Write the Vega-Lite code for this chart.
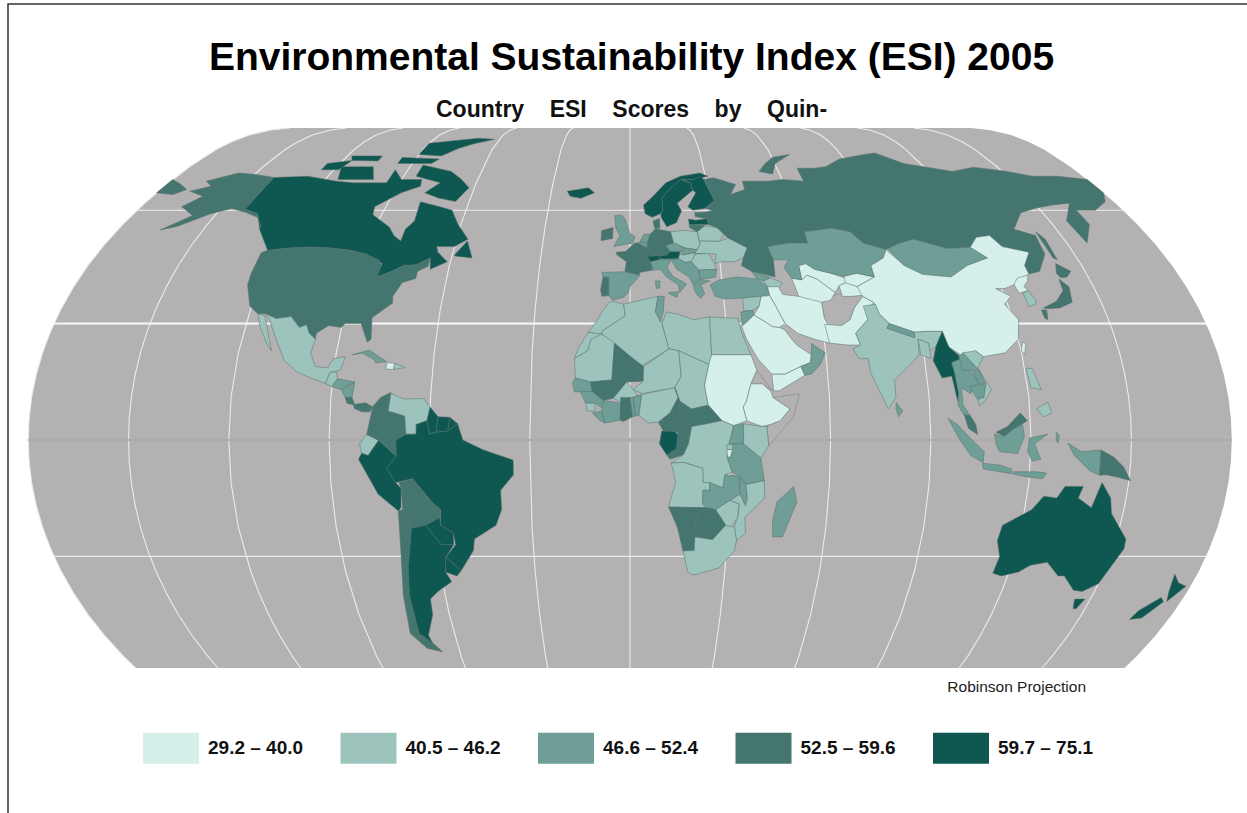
{"$schema":"https://vega.github.io/schema/vega-lite/v6.json","autosize":"none","width":1245,"height":815,"padding":{"left":8,"top":4,"right":0,"bottom":0},"background":"#ffffff","view":{"stroke":"#333333","strokeWidth":1.5,"fill":null},
"title":{"text":"Environmental Sustainability Index (ESI) 2005","subtitle":"\u00a0\u00a0\u00a0Country\u00a0\u00a0\u00a0\u00a0ESI\u00a0\u00a0\u00a0\u00a0Scores\u00a0\u00a0\u00a0\u00a0by\u00a0\u00a0\u00a0\u00a0Quin-","anchor":"middle","frame":"group","dy":122,"dx":1,"font":"Liberation Sans","fontSize":39,"fontWeight":"bold","color":"#000000","subtitleFont":"Liberation Sans","subtitleFontSize":23,"subtitleFontWeight":"bold","subtitleColor":"#111111","subtitlePadding":21},
"projection":{"type":"naturalEarth1","scale":220,"translate":[622,436],"clipExtent":[[0,124],[1245,664]]},
"datasets":{"countries":[
{"type":"Feature","name":"Canada","q":5,"geometry":{"type":"Polygon","coordinates":[[[-141,69.6],[-128,70],[-115,68.5],[-108,68],[-95,68],[-95,72],[-90,69],[-82,69],[-81,67],[-87,65],[-94,61],[-93,58.7],[-85,55.3],[-82,52.9],[-79,51.5],[-79,54.7],[-77,57],[-78,62.4],[-70,61],[-65,60],[-61,56],[-56,52],[-60,50],[-66,50],[-65,48.5],[-61,46],[-66,44],[-67,47],[-71,45.2],[-75,45],[-79,43.3],[-83,42],[-82.5,45.5],[-89,48],[-95,49],[-123,49],[-130,54.5],[-135,59],[-141,60.3],[-141,69.6]]]}},
{"type":"Feature","name":"Baffin","q":5,"geometry":{"type":"Polygon","coordinates":[[[-85,73.5],[-72,71.5],[-62,66.5],[-65,62.5],[-72,63.5],[-78,65],[-74,68],[-85,70],[-85,73.5]]]}},
{"type":"Feature","name":"Victoria","q":5,"geometry":{"type":"Polygon","coordinates":[[[-118,73],[-105,73],[-101,69],[-115,69],[-118,73]]]}},
{"type":"Feature","name":"Banks","q":5,"geometry":{"type":"Polygon","coordinates":[[[-125,74],[-116,75],[-118,72],[-125,72],[-125,74]]]}},
{"type":"Feature","name":"Ellesmere","q":5,"geometry":{"type":"Polygon","coordinates":[[[-90,81],[-70,83],[-62,82.5],[-75,79],[-80,76.5],[-90,77],[-90,81]]]}},
{"type":"Feature","name":"Devon","q":5,"geometry":{"type":"Polygon","coordinates":[[[-96,76],[-80,75.5],[-82,74],[-96,74],[-96,76]]]}},
{"type":"Feature","name":"Melville","q":5,"geometry":{"type":"Polygon","coordinates":[[[-118,76.5],[-105,76.5],[-105,74.8],[-116,75],[-118,76.5]]]}},
{"type":"Feature","name":"Newfoundland","q":5,"geometry":{"type":"Polygon","coordinates":[[[-59,48],[-56,51.5],[-53,47],[-59,47.5],[-59,48]]]}},
{"type":"Feature","name":"USA","q":4,"geometry":{"type":"Polygon","coordinates":[[[-124.7,48.4],[-123,49],[-95,49],[-89,48],[-84,46.5],[-82.5,45],[-83,42],[-79,43.3],[-75,45],[-71,45.2],[-67,47],[-67,44.8],[-70,43.5],[-70,41.6],[-74,40.6],[-76,37],[-75.5,35.3],[-81,31.5],[-80,26],[-81,25.2],[-82.7,28],[-84,30],[-89,30],[-90,29],[-94,29.5],[-97.3,27.5],[-97.2,26],[-99.5,27.5],[-101,29.7],[-103,29],[-106.5,31.8],[-111,31.3],[-114.8,32.5],[-117.2,32.5],[-120.6,34.5],[-124,40],[-124.5,43],[-124.7,48.4]]]}},
{"type":"Feature","name":"Alaska","q":4,"geometry":{"type":"Polygon","coordinates":[[[-168,65.5],[-162,67],[-166,68.5],[-157,71],[-141,69.6],[-141,60.3],[-135,59],[-130,55],[-134,58],[-146,60.5],[-152,59],[-160,55.5],[-165,54.5],[-158,58.5],[-165,61],[-161,64],[-168,65.5]]]}},
{"type":"Feature","name":"Mexico","q":2,"geometry":{"type":"Polygon","coordinates":[[[-114.8,32.5],[-111,31.3],[-106.5,31.8],[-103,29],[-101,29.7],[-99.5,27.5],[-97.2,26],[-97.8,22.5],[-95.8,19],[-92,18.6],[-90.5,21],[-87,21.5],[-88,18],[-91,17.5],[-92,14.6],[-96,15.8],[-101,17.5],[-105.5,20.5],[-109,25.5],[-113,31],[-114.8,32.5]]]}},
{"type":"Feature","name":"Baja California","q":2,"geometry":{"type":"Polygon","coordinates":[[[-117.2,32.5],[-114.8,32],[-112,27],[-110,23],[-112,25],[-115.5,29.5],[-117.2,32.5]]]}},
{"type":"Feature","name":"Guatemala","q":2,"geometry":{"type":"Polygon","coordinates":[[[-91,17.5],[-89,17.5],[-88.5,15.8],[-90,13.8],[-92,14.6],[-91,17.5]]]}},
{"type":"Feature","name":"Honduras","q":3,"geometry":{"type":"Polygon","coordinates":[[[-88.5,15.8],[-83.2,15],[-87,13],[-90,13.8],[-88.5,15.8]]]}},
{"type":"Feature","name":"Nicaragua","q":3,"geometry":{"type":"Polygon","coordinates":[[[-87,13],[-83.2,15],[-83.6,11],[-85.7,11],[-87,13]]]}},
{"type":"Feature","name":"Costa Rica","q":4,"geometry":{"type":"Polygon","coordinates":[[[-85.7,11],[-83.6,11],[-82.6,9],[-85,9.5],[-85.7,11]]]}},
{"type":"Feature","name":"Panama","q":4,"geometry":{"type":"Polygon","coordinates":[[[-83,9.2],[-79.5,9.6],[-77.3,8.6],[-78,7.3],[-80.5,7.3],[-82.8,8.2],[-83,9.2]]]}},
{"type":"Feature","name":"Cuba","q":3,"geometry":{"type":"Polygon","coordinates":[[[-85,22],[-80,23.2],[-74.2,20.2],[-77.5,19.9],[-78,20.7],[-82,22.4],[-85,22]]]}},
{"type":"Feature","name":"Haiti","q":1,"geometry":{"type":"Polygon","coordinates":[[[-74,20],[-71.7,19.8],[-71.8,18.2],[-74.3,18.3],[-74,20]]]}},
{"type":"Feature","name":"Dominican Republic","q":2,"geometry":{"type":"Polygon","coordinates":[[[-71.7,19.8],[-68.4,18.7],[-71.8,18.2],[-71.7,19.8]]]}},
{"type":"Feature","name":"Colombia","q":4,"geometry":{"type":"Polygon","coordinates":[[[-77.3,8.6],[-75,11],[-72,12.3],[-72.5,7.5],[-67.5,6.2],[-67,1.5],[-70,0],[-70,-4.2],[-74,-1],[-78.8,1.4],[-77.5,7],[-77.3,8.6]]]}},
{"type":"Feature","name":"Venezuela","q":2,"geometry":{"type":"Polygon","coordinates":[[[-72,12],[-68,10.6],[-62,10.7],[-60,8.5],[-60.8,5],[-64,4],[-64,1.5],[-67,1.5],[-67.5,6.2],[-72.5,7.5],[-72,12]]]}},
{"type":"Feature","name":"Guyana","q":5,"geometry":{"type":"Polygon","coordinates":[[[-60,8.5],[-57.5,6],[-58,2],[-60,1.5],[-60.8,5],[-60,8.5]]]}},
{"type":"Feature","name":"Suriname","q":5,"geometry":{"type":"Polygon","coordinates":[[[-57.5,6],[-54,5.9],[-54.5,2.3],[-58,2],[-57.5,6]]]}},
{"type":"Feature","name":"French Guiana","q":5,"geometry":{"type":"Polygon","coordinates":[[[-54,5.9],[-51.6,4.2],[-54.5,2.3],[-54,5.9]]]}},
{"type":"Feature","name":"Ecuador","q":2,"geometry":{"type":"Polygon","coordinates":[[[-78.8,1.4],[-75.2,-0.1],[-78.4,-4],[-80.3,-3.4],[-80.9,-1],[-78.8,1.4]]]}},
{"type":"Feature","name":"Peru","q":5,"geometry":{"type":"Polygon","coordinates":[[[-80.3,-3.4],[-78.4,-4],[-75.2,-0.1],[-70,-4.2],[-73,-7.3],[-70.5,-11],[-69,-12.5],[-69.5,-17.5],[-70.4,-18.3],[-76,-14],[-81.3,-5],[-80.3,-3.4]]]}},
{"type":"Feature","name":"Brazil","q":5,"geometry":{"type":"Polygon","coordinates":[[[-70,-4.2],[-70,0],[-67,1.5],[-64,1.5],[-64,4],[-60.8,5],[-60,1.5],[-58,2],[-54.5,2.3],[-51.6,4.2],[-50,0],[-44,-2.5],[-35,-5.2],[-35,-9],[-39,-13],[-39,-18],[-41,-22],[-48,-25.5],[-48.7,-28.5],[-53.4,-33.7],[-57.6,-30.2],[-54,-27],[-54.3,-24],[-58,-22],[-57.5,-18],[-60,-16],[-65.3,-10],[-70.5,-11],[-73,-7.3],[-70,-4.2]]]}},
{"type":"Feature","name":"Bolivia","q":4,"geometry":{"type":"Polygon","coordinates":[[[-69.5,-11],[-65.3,-10],[-60,-16],[-57.5,-18],[-58,-20],[-62.5,-22],[-67,-22.8],[-69,-18],[-69,-12.5],[-69.5,-11]]]}},
{"type":"Feature","name":"Paraguay","q":5,"geometry":{"type":"Polygon","coordinates":[[[-62.5,-22],[-58,-20],[-58,-22],[-54.3,-24],[-54.6,-27],[-58.5,-27],[-62.5,-22]]]}},
{"type":"Feature","name":"Chile","q":4,"geometry":{"type":"Polygon","coordinates":[[[-70.4,-18.3],[-69,-18],[-67,-22.8],[-70,-33],[-71.5,-40],[-72,-50],[-69,-52],[-66,-55],[-71,-54],[-75,-50],[-73.5,-40],[-71.5,-30],[-70.4,-18.3]]]}},
{"type":"Feature","name":"Argentina","q":5,"geometry":{"type":"Polygon","coordinates":[[[-67,-22.8],[-62.5,-22],[-58.5,-27],[-54.6,-27],[-57.6,-30.2],[-58.4,-34],[-57,-36.5],[-62,-39],[-65,-41],[-65.5,-45],[-69,-50.5],[-68.5,-52.5],[-72,-50],[-71.5,-40],[-70,-33],[-67,-22.8]]]}},
{"type":"Feature","name":"Uruguay","q":5,"geometry":{"type":"Polygon","coordinates":[[[-57.6,-30.2],[-53.4,-33.7],[-55,-35],[-58.4,-34],[-57.6,-30.2]]]}},
{"type":"Feature","name":"Morocco","q":2,"geometry":{"type":"Polygon","coordinates":[[[-6,35.8],[-2,35],[-1.5,32],[-8.7,28],[-8.7,27.3],[-13,27.7],[-9.8,31.5],[-8.5,33.5],[-6,35.8]]]}},
{"type":"Feature","name":"Western Sahara","q":2,"geometry":{"type":"Polygon","coordinates":[[[-13,27.7],[-8.7,27.3],[-8.7,26],[-12,26],[-13,23],[-17,21],[-16,23.5],[-13,27.7]]]}},
{"type":"Feature","name":"Algeria","q":2,"geometry":{"type":"Polygon","coordinates":[[[-2,35],[9,37],[8,33],[10,30],[12,23.5],[3.3,19],[-8.7,27.3],[-8.7,28],[-1.5,32],[-2,35]]]}},
{"type":"Feature","name":"Tunisia","q":3,"geometry":{"type":"Polygon","coordinates":[[[9,37],[11,37],[10.5,33],[9.5,30.5],[8,33],[9,37]]]}},
{"type":"Feature","name":"Libya","q":2,"geometry":{"type":"Polygon","coordinates":[[[11.5,33],[15,32.4],[20,31],[25,31.7],[25,20],[24,19.5],[15,23],[12,23.5],[10,30],[11.5,33]]]}},
{"type":"Feature","name":"Egypt","q":2,"geometry":{"type":"Polygon","coordinates":[[[25,31.7],[34,31.3],[34.5,28],[37,22],[25,22],[25,31.7]]]}},
{"type":"Feature","name":"Mauritania","q":2,"geometry":{"type":"Polygon","coordinates":[[[-17,21],[-13,23],[-12,26],[-8.7,27.3],[-4.8,25],[-5.5,15.5],[-12,15],[-16.5,16],[-17,21]]]}},
{"type":"Feature","name":"Mali","q":4,"geometry":{"type":"Polygon","coordinates":[[[-4.8,25],[1,21],[4.2,19],[4,15.2],[-1,15],[-5,10.8],[-8,10.2],[-11.5,12.5],[-12,15],[-5.5,15.5],[-4.8,25]]]}},
{"type":"Feature","name":"Niger","q":2,"geometry":{"type":"Polygon","coordinates":[[[4.2,19],[12,23.5],[15,23],[15.5,16.5],[13.5,13.5],[3.7,12],[1,13],[4,15.2],[4.2,19]]]}},
{"type":"Feature","name":"Chad","q":2,"geometry":{"type":"Polygon","coordinates":[[[15,23],[24,19.5],[22.5,14],[23.5,9],[18.5,8],[15,10],[13.5,13.5],[15.5,16.5],[15,23]]]}},
{"type":"Feature","name":"Sudan","q":1,"geometry":{"type":"Polygon","coordinates":[[[25,22],[37,22],[38.5,18],[36.5,14.5],[35,10],[34,8.5],[35,5],[31,3.7],[27.5,5],[23.5,9],[22.5,14],[24,19.5],[25,22]]]}},
{"type":"Feature","name":"Eritrea","q":0,"geometry":{"type":"Polygon","coordinates":[[[38.5,18],[43,12.7],[40,14.5],[36.5,14.5],[38.5,18]]]}},
{"type":"Feature","name":"Ethiopia","q":1,"geometry":{"type":"Polygon","coordinates":[[[36.5,14.5],[40,14.5],[42.5,12.5],[43,11],[48,8],[45,5],[42,4],[39.5,3.5],[35,5],[34,8.5],[35,10],[36.5,14.5]]]}},
{"type":"Feature","name":"Somalia","q":0,"geometry":{"type":"Polygon","coordinates":[[[43,11],[51,12],[49,6],[41.5,-1.5],[41,3.5],[42,4],[45,5],[48,8],[43,11]]]}},
{"type":"Feature","name":"Senegal","q":3,"geometry":{"type":"Polygon","coordinates":[[[-16.5,16],[-12,15],[-11.5,12.5],[-16.7,12.4],[-17.4,14.7],[-16.5,16]]]}},
{"type":"Feature","name":"Guinea","q":3,"geometry":{"type":"Polygon","coordinates":[[[-15,12.5],[-11.5,12.5],[-8,10.2],[-8,8],[-10.5,9.5],[-13.3,9.5],[-15,12.5]]]}},
{"type":"Feature","name":"Sierra Leone","q":2,"geometry":{"type":"Polygon","coordinates":[[[-13.3,9.5],[-10.5,9.5],[-10.5,7.5],[-12.8,7.5],[-13.3,9.5]]]}},
{"type":"Feature","name":"Liberia","q":3,"geometry":{"type":"Polygon","coordinates":[[[-11.3,7],[-8.5,7.5],[-7.5,4.4],[-9,5],[-11.3,7]]]}},
{"type":"Feature","name":"Ivory Coast","q":3,"geometry":{"type":"Polygon","coordinates":[[[-8,10.2],[-2.8,9.5],[-2.8,5.2],[-7.5,4.4],[-8.5,7.5],[-8,10.2]]]}},
{"type":"Feature","name":"Burkina Faso","q":2,"geometry":{"type":"Polygon","coordinates":[[[-5,10.8],[-1,15],[1,13],[2.3,11.5],[-2.8,9.8],[-5,10.8]]]}},
{"type":"Feature","name":"Ghana","q":4,"geometry":{"type":"Polygon","coordinates":[[[-2.8,11],[0,11],[0.8,6],[-2,4.8],[-3,5.2],[-2.8,11]]]}},
{"type":"Feature","name":"Togo","q":3,"geometry":{"type":"Polygon","coordinates":[[[0,11],[1,11],[1.6,6.2],[0.8,6],[0,11]]]}},
{"type":"Feature","name":"Benin","q":3,"geometry":{"type":"Polygon","coordinates":[[[1,11],[3.5,11.8],[2.7,6.3],[1.6,6.2],[1,11]]]}},
{"type":"Feature","name":"Nigeria","q":2,"geometry":{"type":"Polygon","coordinates":[[[3.5,11.8],[13.5,13.5],[14.5,11],[12,7],[8.5,4.6],[5.5,4.4],[2.7,6.3],[3.5,11.8]]]}},
{"type":"Feature","name":"Cameroon","q":4,"geometry":{"type":"Polygon","coordinates":[[[13.5,13.5],[15,10],[14.5,6],[16,2],[10,2.3],[8.5,4.6],[12,7],[14.5,11],[13.5,13.5]]]}},
{"type":"Feature","name":"Central African Republic","q":4,"geometry":{"type":"Polygon","coordinates":[[[15,10],[18.5,8],[23.5,9],[27.5,5],[22,4],[18.5,3.5],[16,2],[14.5,6],[15,10]]]}},
{"type":"Feature","name":"Congo","q":4,"geometry":{"type":"Polygon","coordinates":[[[14,3.2],[18.5,3.5],[17.5,-1],[16,-3.8],[12,-5],[11,-3.9],[13.8,-2.3],[14.3,1.3],[14,3.2]]]}},
{"type":"Feature","name":"Gabon","q":5,"geometry":{"type":"Polygon","coordinates":[[[9.5,2.3],[13.5,2.2],[14.3,1.3],[13.8,-2.3],[11,-3.9],[8.8,-1],[9.5,2.3]]]}},
{"type":"Feature","name":"DR Congo","q":2,"geometry":{"type":"Polygon","coordinates":[[[18.5,3.5],[22,4],[27.5,5],[31,3.7],[29.6,-1],[29,-4.5],[30.7,-8.3],[28.5,-9],[28,-12.4],[24,-11],[22,-11],[21.8,-7.3],[16,-5.8],[12.3,-6],[16,-3.8],[17.5,-1],[18.5,3.5]]]}},
{"type":"Feature","name":"Uganda","q":3,"geometry":{"type":"Polygon","coordinates":[[[31,3.7],[34,4.2],[34,0.5],[33.9,-1],[29.6,-1],[30.5,1.5],[31,3.7]]]}},
{"type":"Feature","name":"Kenya","q":2,"geometry":{"type":"Polygon","coordinates":[[[34,4.2],[39.5,3.5],[41,3.5],[41.5,-1.5],[39.2,-4.7],[33.9,-1],[34,0.5],[34,4.2]]]}},
{"type":"Feature","name":"Tanzania","q":3,"geometry":{"type":"Polygon","coordinates":[[[30.5,-1],[33.9,-1],[39.2,-4.7],[40.4,-10.5],[34.9,-11.5],[32.9,-9.4],[30.7,-8.3],[29.2,-4.5],[30.5,-1]]]}},
{"type":"Feature","name":"Rwanda","q":2,"geometry":{"type":"Polygon","coordinates":[[[29,-1.2],[30.7,-1.2],[30.7,-2.5],[29,-2.5],[29,-1.2]]]}},
{"type":"Feature","name":"Burundi","q":1,"geometry":{"type":"Polygon","coordinates":[[[29,-2.5],[30.7,-2.5],[30,-4.4],[29.2,-4.4],[29,-2.5]]]}},
{"type":"Feature","name":"Angola","q":2,"geometry":{"type":"Polygon","coordinates":[[[12.3,-6],[16,-5.8],[21.8,-7.3],[22,-11],[24,-11],[24,-13],[22,-13],[22,-16.5],[23.4,-17.5],[11.7,-17.3],[13.7,-11],[13,-8],[12.3,-6]]]}},
{"type":"Feature","name":"Zambia","q":3,"geometry":{"type":"Polygon","coordinates":[[[24,-11],[28,-12.4],[28.5,-9],[32.9,-9.4],[33.2,-14],[30.2,-15.6],[26,-18],[23.4,-17.8],[22,-16.5],[22,-13],[24,-13],[24,-11]]]}},
{"type":"Feature","name":"Malawi","q":3,"geometry":{"type":"Polygon","coordinates":[[[32.9,-9.4],[34.9,-11.5],[35.5,-15],[35,-17],[33.2,-14],[32.9,-9.4]]]}},
{"type":"Feature","name":"Mozambique","q":2,"geometry":{"type":"Polygon","coordinates":[[[34.9,-11.5],[40.4,-10.5],[40.7,-15],[35,-20],[35.5,-24],[32.9,-26],[32,-22.5],[33,-19],[33,-16.5],[30.2,-15.6],[33.2,-14],[35,-17],[35.5,-15],[34.9,-11.5]]]}},
{"type":"Feature","name":"Zimbabwe","q":2,"geometry":{"type":"Polygon","coordinates":[[[26,-18],[30.2,-15.6],[33,-16.5],[32.8,-20],[31,-22.4],[29.3,-22],[26,-18]]]}},
{"type":"Feature","name":"Botswana","q":4,"geometry":{"type":"Polygon","coordinates":[[[20.9,-18.3],[25,-17.8],[26,-18],[29.3,-22],[25.5,-25.7],[20,-25],[20,-22],[20.9,-18.3]]]}},
{"type":"Feature","name":"Namibia","q":4,"geometry":{"type":"Polygon","coordinates":[[[11.7,-17.3],[23.4,-17.5],[25,-17.8],[20.9,-18.3],[20,-22],[20,-28.5],[16.5,-28.6],[14.5,-22.5],[11.7,-17.3]]]}},
{"type":"Feature","name":"South Africa","q":2,"geometry":{"type":"Polygon","coordinates":[[[16.5,-28.6],[20,-28.5],[20,-25],[25.5,-25.7],[29.3,-22],[32,-22.5],[32.9,-26],[32.5,-28.5],[28,-33],[20,-34.8],[18.3,-34],[16.5,-28.6]]]}},
{"type":"Feature","name":"Madagascar","q":3,"geometry":{"type":"Polygon","coordinates":[[[49.3,-12],[50.5,-16],[47,-25],[44,-25],[43.5,-21],[44.5,-16],[49.3,-12]]]}},
{"type":"Feature","name":"Iceland","q":5,"geometry":{"type":"Polygon","coordinates":[[[-24,65.5],[-16,66.5],[-13.5,65],[-18.5,63.4],[-22.5,64],[-24,65.5]]]}},
{"type":"Feature","name":"United Kingdom","q":3,"geometry":{"type":"Polygon","coordinates":[[[-5.5,58.5],[-3,58.6],[-1.8,57.5],[0,53.5],[1.7,52.7],[1,51],[-5.5,50],[-3.5,53],[-5,55],[-5.5,58.5]]]}},
{"type":"Feature","name":"Ireland","q":4,"geometry":{"type":"Polygon","coordinates":[[[-10,54.3],[-6,55.2],[-6,52.2],[-10,51.6],[-10,54.3]]]}},
{"type":"Feature","name":"Norway","q":5,"geometry":{"type":"Polygon","coordinates":[[[5,61.5],[8,63.5],[14,68],[20,70],[28,71],[31,70],[25,69],[20,69],[15,66],[12,63.5],[12,60],[11,59],[8,58],[5.5,59],[5,61.5]]]}},
{"type":"Feature","name":"Sweden","q":5,"geometry":{"type":"Polygon","coordinates":[[[11.2,59],[12,60],[12,63.5],[15,66],[20,69],[23.7,67.9],[24,65.8],[17.5,62],[18.8,59.8],[16.5,56.5],[13,55.4],[11.2,58],[11.2,59]]]}},
{"type":"Feature","name":"Finland","q":5,"geometry":{"type":"Polygon","coordinates":[[[20.6,69],[25,69],[28,70],[29,69],[31.5,62.8],[27.5,60.5],[23,60],[21.3,61],[25,65],[24,65.8],[23.7,67.9],[20.6,69]]]}},
{"type":"Feature","name":"Denmark","q":4,"geometry":{"type":"Polygon","coordinates":[[[8.2,57],[10.6,57.7],[10.5,55],[8.7,54.9],[8.2,57]]]}},
{"type":"Feature","name":"Netherlands","q":3,"geometry":{"type":"Polygon","coordinates":[[[3.5,51.5],[5,53.4],[7,53.3],[6,51],[3.5,51.3],[3.5,51.5]]]}},
{"type":"Feature","name":"Belgium","q":3,"geometry":{"type":"Polygon","coordinates":[[[2.6,51],[3.5,51.3],[6,51],[5.8,49.6],[2.6,50.5],[2.6,51]]]}},
{"type":"Feature","name":"France","q":4,"geometry":{"type":"Polygon","coordinates":[[[-4.7,48.5],[-1.5,48.7],[1.5,50.9],[2.6,51],[5.8,49.6],[8,49],[7.5,47.5],[6.8,45.8],[7.5,43.8],[3.2,43.2],[3,42.5],[-1.7,43.4],[-1.2,46],[-4.5,47.9],[-4.7,48.5]]]}},
{"type":"Feature","name":"Spain","q":3,"geometry":{"type":"Polygon","coordinates":[[[-9.3,43.2],[-1.7,43.4],[3.2,42.4],[0,39.5],[-0.5,38],[-2,36.8],[-5.5,36],[-6.8,37.2],[-7,41.9],[-8.8,42],[-9.3,43.2]]]}},
{"type":"Feature","name":"Portugal","q":4,"geometry":{"type":"Polygon","coordinates":[[[-8.8,42],[-7,41.9],[-6.8,37.2],[-9,37],[-9.5,38.7],[-8.8,42]]]}},
{"type":"Feature","name":"Germany","q":4,"geometry":{"type":"Polygon","coordinates":[[[6,51],[7,53.3],[9,54.8],[14.2,54],[15,51],[12.2,50.3],[13.7,48.7],[12.2,47.7],[9.6,47.6],[7.6,47.6],[8,49],[5.8,49.6],[6,51]]]}},
{"type":"Feature","name":"Switzerland","q":5,"geometry":{"type":"Polygon","coordinates":[[[6,47.4],[9.6,47.6],[10.4,46.5],[7,45.9],[6,47.4]]]}},
{"type":"Feature","name":"Austria","q":5,"geometry":{"type":"Polygon","coordinates":[[[9.6,47.6],[12.2,47.7],[13.7,48.7],[17,48.7],[16.2,46.8],[10.4,46.7],[9.6,47.6]]]}},
{"type":"Feature","name":"Italy","q":3,"geometry":{"type":"Polygon","coordinates":[[[7,46],[10.4,46.7],[13.7,46.5],[12.3,44.5],[14,42.2],[18.4,40.2],[16,38],[15.6,40],[12,42],[10,44],[7.5,43.8],[7,46]]]}},
{"type":"Feature","name":"Sicily","q":3,"geometry":{"type":"Polygon","coordinates":[[[12.5,38],[15.6,38.2],[15,36.7],[12.5,37.7],[12.5,38]]]}},
{"type":"Feature","name":"Sardinia","q":3,"geometry":{"type":"Polygon","coordinates":[[[8.2,41],[9.7,41],[9.6,39.2],[8.5,39],[8.2,41]]]}},
{"type":"Feature","name":"Poland","q":2,"geometry":{"type":"Polygon","coordinates":[[[14.2,54],[19,54.4],[23.5,54],[24,50.5],[22.6,49.2],[18.8,49.6],[15,51],[14.2,54]]]}},
{"type":"Feature","name":"Czech Republic","q":3,"geometry":{"type":"Polygon","coordinates":[[[12.2,50.3],[15,51],[18.8,49.6],[17,48.7],[13.7,48.7],[12.2,50.3]]]}},
{"type":"Feature","name":"Slovakia","q":3,"geometry":{"type":"Polygon","coordinates":[[[17,48.7],[18.8,49.6],[22.6,49.2],[22,48.4],[18,47.8],[17,48.7]]]}},
{"type":"Feature","name":"Hungary","q":2,"geometry":{"type":"Polygon","coordinates":[[[16.2,46.8],[17,48],[18,47.8],[22,48.4],[21,46.2],[18.5,45.8],[16.2,46.8]]]}},
{"type":"Feature","name":"Belarus","q":2,"geometry":{"type":"Polygon","coordinates":[[[23.5,54],[26.5,55.7],[31,55],[32.7,53.3],[30.5,51.4],[24,51.5],[23.5,54]]]}},
{"type":"Feature","name":"Ukraine","q":2,"geometry":{"type":"Polygon","coordinates":[[[24,51.5],[30.5,51.4],[34,52.3],[40,49.7],[38,47],[35,46],[33,46],[30.5,46],[28.2,45.5],[29.2,48],[22,48.2],[24,50.5],[24,51.5]]]}},
{"type":"Feature","name":"Romania","q":2,"geometry":{"type":"Polygon","coordinates":[[[22,48],[26.5,48.2],[28.2,45.5],[28.6,44],[22.7,43.8],[20.5,46],[22,48]]]}},
{"type":"Feature","name":"Bulgaria","q":3,"geometry":{"type":"Polygon","coordinates":[[[22.7,43.8],[28.6,44],[28,42],[22.8,41.3],[22.7,43.8]]]}},
{"type":"Feature","name":"Western Balkans","q":3,"geometry":{"type":"Polygon","coordinates":[[[13.7,46.5],[16.2,46.8],[18.5,45.8],[20.5,46],[22.7,43.8],[22.8,41.3],[20.5,40],[19.3,42],[15.5,44],[13.7,46.5]]]}},
{"type":"Feature","name":"Greece","q":3,"geometry":{"type":"Polygon","coordinates":[[[20.5,40],[22.8,41.3],[26,41],[23,40],[24,37.7],[22.5,36.5],[21,38],[20.5,40]]]}},
{"type":"Feature","name":"Estonia","q":4,"geometry":{"type":"Polygon","coordinates":[[[23.5,59.3],[28,59.5],[27.5,57.6],[23.5,58.2],[23.5,59.3]]]}},
{"type":"Feature","name":"Latvia","q":5,"geometry":{"type":"Polygon","coordinates":[[[21,57.5],[23.5,57.2],[27.5,57.6],[28,56],[21,56],[21,57.5]]]}},
{"type":"Feature","name":"Lithuania","q":4,"geometry":{"type":"Polygon","coordinates":[[[21,56],[26.5,55.7],[23.5,54],[21,55.2],[21,56]]]}},
{"type":"Feature","name":"Russia","q":4,"geometry":{"type":"Polygon","coordinates":[[[29,69],[33,69.5],[41,67.5],[38,64.5],[44,66],[44,68.5],[54,68.5],[60,69],[68,68.5],[68,72.5],[75,72.5],[80,73],[88,75.5],[100,77],[105,77.5],[113,74],[130,71.5],[140,72.8],[160,70],[170,70],[180,69],[180,65],[177,62.5],[170,60],[163,60],[163,56],[157,51],[156,57],[163,62],[156,61.5],[142,59.3],[135,54.7],[141,53],[140,48],[135,43.5],[131,42.8],[131,45],[135,48.5],[127,50],[125,53],[120,52.5],[116,49.8],[108,49.5],[102,51],[98,52],[92,50.8],[87,49.2],[80,51],[77,54],[71,55],[61,54],[61,51],[55,51],[47,50],[48,46.5],[47.5,42],[40,43.5],[37,45],[38,47],[40,49.7],[34,52.3],[32.7,53.3],[31,55],[28,56],[27.5,57.6],[28,59.5],[30,60],[27.8,60.5],[31.5,62.8],[29,69]]]}},
{"type":"Feature","name":"Chukotka","q":4,"geometry":{"type":"Polygon","coordinates":[[[-180,69],[-170,66],[-173,64.5],[-180,65],[-180,69]]]}},
{"type":"Feature","name":"Novaya Zemlya","q":4,"geometry":{"type":"Polygon","coordinates":[[[52,71.5],[60,76],[68,77],[60,74],[57,70.7],[52,71.5]]]}},
{"type":"Feature","name":"Sakhalin","q":4,"geometry":{"type":"Polygon","coordinates":[[[142,54],[143.5,52],[143,46.5],[142,47],[142,54]]]}},
{"type":"Feature","name":"Turkey","q":3,"geometry":{"type":"Polygon","coordinates":[[[26,40],[29,41.2],[35,42],[41.5,41.5],[44.5,39.5],[44.5,37],[36,36.6],[30,36.3],[27.3,37],[26,40]]]}},
{"type":"Feature","name":"Georgia","q":3,"geometry":{"type":"Polygon","coordinates":[[[40,43.5],[46,41.8],[43.5,41],[41.5,41.5],[40,43.5]]]}},
{"type":"Feature","name":"Armenia and Azerbaijan","q":2,"geometry":{"type":"Polygon","coordinates":[[[43.5,41],[46,41.8],[49.5,40.5],[48,39],[44.5,39.5],[43.5,41]]]}},
{"type":"Feature","name":"Syria","q":2,"geometry":{"type":"Polygon","coordinates":[[[36,36.6],[42,37],[41,34.5],[38.8,33.4],[36,33.2],[36,36.6]]]}},
{"type":"Feature","name":"Jordan","q":3,"geometry":{"type":"Polygon","coordinates":[[[35,33],[38.8,33.4],[39,32.2],[36,30],[35,29.5],[35,33]]]}},
{"type":"Feature","name":"Iraq","q":1,"geometry":{"type":"Polygon","coordinates":[[[42,37],[44.8,37.2],[46,35],[48.5,30],[46.5,29],[44.5,29.2],[39,32.2],[41,34.5],[42,37]]]}},
{"type":"Feature","name":"Iran","q":1,"geometry":{"type":"Polygon","coordinates":[[[44.5,39.5],[48,39.5],[49,37.5],[54,37],[61,36.5],[61,31.5],[63,27],[61.5,25],[57,26],[52,27.5],[48.5,30],[46,35],[44.8,37.2],[44.5,39.5]]]}},
{"type":"Feature","name":"Saudi Arabia","q":1,"geometry":{"type":"Polygon","coordinates":[[[34.8,29.3],[36,30],[39,32.2],[44.5,29.2],[46.5,29],[48,28.5],[50,26],[51.3,24.5],[55.5,22],[55,20],[52,19],[47,17],[43,17],[39,21],[36,26],[34.8,29.3]]]}},
{"type":"Feature","name":"Yemen","q":1,"geometry":{"type":"Polygon","coordinates":[[[43,17],[47,17],[52,19],[53,16.7],[45,12.7],[43.3,12.7],[43,17]]]}},
{"type":"Feature","name":"Oman","q":3,"geometry":{"type":"Polygon","coordinates":[[[55.5,22],[56,25],[56.5,24.5],[59.8,22.5],[58,19.5],[55,17],[53,16.7],[52,19],[55,20],[55.5,22]]]}},
{"type":"Feature","name":"Afghanistan","q":0,"geometry":{"type":"Polygon","coordinates":[[[61,36.5],[65,37.3],[71,38],[74.5,37],[71,34],[69,31],[66,29.5],[61,29.5],[61,31.5],[61,36.5]]]}},
{"type":"Feature","name":"Pakistan","q":1,"geometry":{"type":"Polygon","coordinates":[[[60.8,29.8],[66,29.5],[69,31],[71,34],[74.5,37],[77.5,35.5],[74.5,31],[70,27.5],[71,24.5],[67,24.5],[61.5,25],[60.8,29.8]]]}},
{"type":"Feature","name":"Turkmenistan","q":1,"geometry":{"type":"Polygon","coordinates":[[[52.8,41.7],[56,41.3],[58,42.5],[61,41.5],[66,38],[64,36],[61,35.5],[54,37],[53.5,39],[52.8,41.7]]]}},
{"type":"Feature","name":"Uzbekistan","q":1,"geometry":{"type":"Polygon","coordinates":[[[56,45],[58.5,45.5],[61,44],[66,43],[71,41.5],[70,40.5],[67.7,39.7],[66,38],[61,41.5],[58,42.5],[56,41.3],[56,45]]]}},
{"type":"Feature","name":"Kyrgyzstan","q":1,"geometry":{"type":"Polygon","coordinates":[[[70,42.2],[74.5,43],[80,42],[73.5,39.5],[70,40],[70,42.2]]]}},
{"type":"Feature","name":"Tajikistan","q":1,"geometry":{"type":"Polygon","coordinates":[[[67.7,39.7],[70,40.5],[73.5,39.5],[75,37.3],[71,37],[68,37],[67.7,39.7]]]}},
{"type":"Feature","name":"Kazakhstan","q":3,"geometry":{"type":"Polygon","coordinates":[[[47,50],[55,51],[61,51],[61,54],[71,55],[77,54],[80,51],[87,49.2],[85,47],[80,45],[80,42],[74.5,43],[70,42.2],[66,43],[61,44],[58.5,45.5],[56,45],[56,41.3],[52.8,41.7],[51,44.5],[53,46.5],[48,46.5],[47,50]]]}},
{"type":"Feature","name":"Mongolia","q":3,"geometry":{"type":"Polygon","coordinates":[[[87.8,49.2],[92,50.8],[98,52],[102,51],[108,49.5],[116,49.8],[120,47],[112,45],[105,42],[96,42.7],[91,45],[87.8,49.2]]]}},
{"type":"Feature","name":"China","q":1,"geometry":{"type":"Polygon","coordinates":[[[73.5,39.5],[80,42],[80,45],[85,47],[87,49.2],[91,45],[96,42.7],[105,42],[112,45],[120,47],[116,49.8],[120,52.5],[125,53],[127,50],[135,48.5],[131,45],[131,42.8],[124.5,40],[121,39],[118,39],[122,37],[119,35],[121.8,31],[120,26],[115,22.5],[108,21.5],[106,23],[102,21.5],[98,24],[97,28],[92,28],[88.3,27.8],[81,30],[78.5,32.5],[77.5,35.5],[74.5,37],[73.5,39.5]]]}},
{"type":"Feature","name":"India","q":2,"geometry":{"type":"Polygon","coordinates":[[[74,34.5],[78,35],[78.5,32.5],[81,30],[80,28.8],[88,26.4],[88.3,27.8],[92,28],[97,28],[94,24],[92,23],[92,25],[89,26],[88.5,22],[86,20],[80,15.5],[80,11],[77.5,8],[76,11],[73,17.5],[72.8,21],[70,21],[68.5,23.5],[71,24.5],[70,27.5],[74.5,31],[74,34.5]]]}},
{"type":"Feature","name":"Nepal","q":3,"geometry":{"type":"Polygon","coordinates":[[[80,28.8],[81,30],[88.3,27.8],[88,26.4],[80,28.8]]]}},
{"type":"Feature","name":"Bangladesh","q":2,"geometry":{"type":"Polygon","coordinates":[[[89,26],[92,25],[92,21],[89,22],[89,26]]]}},
{"type":"Feature","name":"Sri Lanka","q":3,"geometry":{"type":"Polygon","coordinates":[[[80,9.7],[81.8,7.5],[80.5,6],[79.8,8],[80,9.7]]]}},
{"type":"Feature","name":"Myanmar","q":5,"geometry":{"type":"Polygon","coordinates":[[[97,28],[98,24],[101,21.5],[98.5,17],[99,12],[98.5,10],[97.5,16.5],[94.5,16],[92.5,20.5],[94,24],[97,28]]]}},
{"type":"Feature","name":"Thailand","q":3,"geometry":{"type":"Polygon","coordinates":[[[98,20],[101,21],[105.5,15],[102.5,12],[100,13.5],[100,9],[102,6.3],[100,6.5],[98.5,9],[99,12],[98.5,17],[98,20]]]}},
{"type":"Feature","name":"Laos","q":3,"geometry":{"type":"Polygon","coordinates":[[[100.5,21.5],[102,22.5],[106,18],[107.5,15],[105.5,14.3],[104,18],[101,18],[100.5,21.5]]]}},
{"type":"Feature","name":"Cambodia","q":3,"geometry":{"type":"Polygon","coordinates":[[[102.5,13.8],[107.5,14.6],[106.5,11],[104.5,10.5],[102.5,13.8]]]}},
{"type":"Feature","name":"Vietnam","q":2,"geometry":{"type":"Polygon","coordinates":[[[102,22.5],[106,23],[108,21.5],[105.7,18.5],[109,13],[107,10.5],[105,8.8],[104.7,10.5],[106.5,11],[107.5,14.6],[106,18],[102,22.5]]]}},
{"type":"Feature","name":"Malaysia","q":4,"geometry":{"type":"Polygon","coordinates":[[[100.2,6.5],[102,6.3],[103.5,4],[104,1.4],[101.3,3],[100.2,6.5]]]}},
{"type":"Feature","name":"Sarawak and Sabah","q":4,"geometry":{"type":"Polygon","coordinates":[[[109.5,2],[113,3.5],[117,7],[119,5],[117.5,4.2],[115,3],[112,1],[109.5,2]]]}},
{"type":"Feature","name":"Kalimantan","q":3,"geometry":{"type":"Polygon","coordinates":[[[109,1.5],[112,1],[115,3],[117.5,4],[118,1],[116,-3.5],[110.5,-3],[109.5,-1],[109,1.5]]]}},
{"type":"Feature","name":"Sumatra","q":3,"geometry":{"type":"Polygon","coordinates":[[[95.3,5.6],[98,4],[103.5,-1],[106,-3],[105.8,-5.8],[102,-4],[98,1],[95.3,5.6]]]}},
{"type":"Feature","name":"Java","q":3,"geometry":{"type":"Polygon","coordinates":[[[105.5,-6],[111,-6.5],[114.5,-7.5],[114.5,-8.7],[106,-7.5],[105.5,-6]]]}},
{"type":"Feature","name":"Lesser Sunda","q":3,"geometry":{"type":"Polygon","coordinates":[[[115,-8.2],[122,-8.2],[125,-8.5],[124,-10],[119,-9.5],[115,-8.8],[115,-8.2]]]}},
{"type":"Feature","name":"Sulawesi","q":3,"geometry":{"type":"Polygon","coordinates":[[[119.5,0.5],[125,1.5],[121,-1],[123,-5],[120.5,-5.5],[119,-3],[119.5,0.5]]]}},
{"type":"Feature","name":"Halmahera","q":3,"geometry":{"type":"Polygon","coordinates":[[[127.5,2],[128.5,1],[128,-0.8],[127.5,0],[127.5,2]]]}},
{"type":"Feature","name":"West New Guinea","q":3,"geometry":{"type":"Polygon","coordinates":[[[131,-0.8],[135,-3],[141,-2.6],[141,-9.1],[138,-8],[133,-4],[131,-0.8]]]}},
{"type":"Feature","name":"Papua New Guinea","q":4,"geometry":{"type":"Polygon","coordinates":[[[141,-2.6],[145,-4.5],[148,-7],[150.5,-10.5],[147,-9.7],[143,-9],[141,-9.1],[141,-2.6]]]}},
{"type":"Feature","name":"Luzon","q":2,"geometry":{"type":"Polygon","coordinates":[[[120.3,18.5],[122.2,18.5],[124,13],[121,13.5],[120.3,18.5]]]}},
{"type":"Feature","name":"Mindanao","q":2,"geometry":{"type":"Polygon","coordinates":[[[122,8],[125.5,9.8],[126.5,7],[124,6],[122,8]]]}},
{"type":"Feature","name":"Taiwan","q":1,"geometry":{"type":"Polygon","coordinates":[[[121,25.2],[122,25],[120.8,22],[120,23],[121,25.2]]]}},
{"type":"Feature","name":"Honshu","q":4,"geometry":{"type":"Polygon","coordinates":[[[130.9,34],[136,35.8],[139.5,38.5],[140,41.5],[142,39.5],[140.8,35.5],[136,34],[132,33.8],[130.9,34]]]}},
{"type":"Feature","name":"Kyushu","q":4,"geometry":{"type":"Polygon","coordinates":[[[130,33.5],[131.7,33.5],[131,31],[130.2,31.3],[130,33.5]]]}},
{"type":"Feature","name":"Hokkaido","q":4,"geometry":{"type":"Polygon","coordinates":[[[140.2,43],[141.7,45.5],[145.3,43.5],[143,42],[140.8,41.8],[140.2,43]]]}},
{"type":"Feature","name":"North Korea","q":1,"geometry":{"type":"Polygon","coordinates":[[[124.5,40],[126.5,41.7],[130.5,42.5],[129.5,41],[127.5,39.5],[128.3,38.5],[125,37.8],[124.5,40]]]}},
{"type":"Feature","name":"South Korea","q":2,"geometry":{"type":"Polygon","coordinates":[[[126.3,37.8],[128.4,38.5],[129.4,36],[129,35],[126.5,34.4],[126.3,37.8]]]}},
{"type":"Feature","name":"Australia","q":5,"geometry":{"type":"Polygon","coordinates":[[[114,-22],[117,-20.5],[122,-18],[125,-14.5],[129,-15],[131,-12],[136.5,-12],[135.5,-15],[140,-17.5],[142,-11],[145.3,-15],[146.5,-19],[153,-25.5],[153.5,-28],[150,-37],[146,-39],[143,-38.7],[138,-35],[136,-35],[131,-31.5],[126,-32.3],[123,-34],[118,-35],[115,-34.3],[115.5,-30],[113.5,-26],[114,-22]]]}},
{"type":"Feature","name":"Tasmania","q":5,"geometry":{"type":"Polygon","coordinates":[[[144.8,-41],[148.2,-41],[147,-43.5],[146,-43.5],[144.8,-41]]]}},
{"type":"Feature","name":"New Zealand North","q":5,"geometry":{"type":"Polygon","coordinates":[[[172.8,-34.5],[175.5,-36.8],[178.5,-37.7],[175.3,-41.6],[174,-39],[172.8,-34.5]]]}},
{"type":"Feature","name":"New Zealand South","q":5,"geometry":{"type":"Polygon","coordinates":[[[172.7,-40.6],[174.3,-41.7],[170.7,-45.9],[167,-46.3],[168,-44],[172.7,-40.6]]]}}
]},
"layer":[
{"data":{"sphere":true},"mark":{"type":"geoshape","fill":"#b3b1b1","stroke":null},"encoding":{}},
{"data":{"graticule":{"extentMinor":[[-180,-90],[180,90]],"stepMinor":[30,30],"stepMajor":[90,360]}},"mark":{"type":"geoshape","filled":false,"stroke":"#ececec","strokeWidth":1.1},"encoding":{}},
{"data":{"graticule":{"extentMajor":[[-180,-0.5],[180,0.5]],"stepMajor":[360,360],"extentMinor":[[-1,-0.4],[-0.9,-0.3]],"stepMinor":[1,1]}},"mark":{"type":"geoshape","filled":false,"stroke":"#adabab","strokeWidth":2},"encoding":{}},
{"data":{"graticule":{"extentMajor":[[-180,30],[-179.9,30.1]],"stepMajor":[90,360],"extentMinor":[[-180,30],[180,30.5]],"stepMinor":[360,1]}},"mark":{"type":"geoshape","filled":false,"stroke":"#f6f6f6","strokeWidth":2},"encoding":{}},
{"data":{"name":"countries"},"transform":[{"filter":"datum.q == 0"}],"mark":{"type":"geoshape","fill":"#b3b1b1","stroke":"#7c8a88","strokeWidth":0.6},"encoding":{}},
{"data":{"name":"countries"},"transform":[{"filter":"datum.q > 0"}],"mark":{"type":"geoshape","stroke":"#56706c","strokeWidth":0.5},"encoding":{"color":{"field":"q","type":"ordinal","scale":{"domain":[1,2,3,4,5],"range":["#d5f0ea","#9cc4bc","#6e9e96","#44766f","#0f5751"]},"legend":{"orient":"none","legendX":135,"legendY":716,"direction":"horizontal","columns":5,"title":null,"symbolType":"M-1,-0.554H1V0.554H-1Z","symbolSize":3136,"symbolStrokeWidth":0,"symbolOpacity":1,"labelFont":"Liberation Sans","labelFontSize":19,"labelFontWeight":"bold","labelColor":"#111111","labelOffset":9,"columnPadding":36.5,"labelLimit":200,"labelExpr":"['29.2 – 40.0','40.5 – 46.2','46.6 – 52.4','52.5 – 59.6','59.7 – 75.1'][datum.value-1]"}}}},
{"data":{"values":[{"note":"Robinson Projection","lon":147,"lat":-65}]},"mark":{"type":"text","font":"Liberation Sans","fontSize":15.5,"color":"#222222","align":"center","baseline":"middle"},"encoding":{"longitude":{"field":"lon","type":"quantitative"},"latitude":{"field":"lat","type":"quantitative"},"text":{"field":"note"}}}
]}
